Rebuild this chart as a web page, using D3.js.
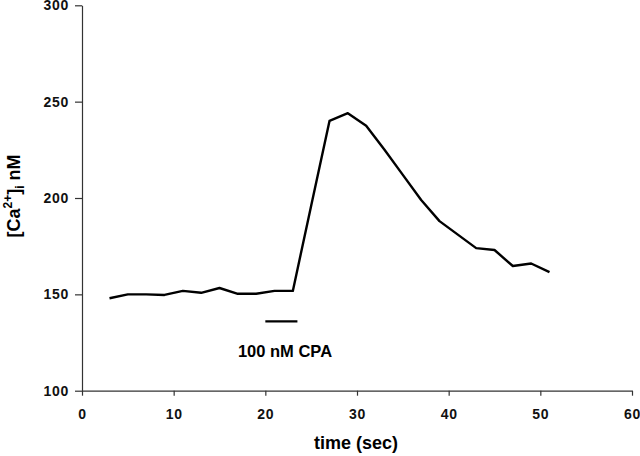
<!DOCTYPE html>
<html>
<head>
<meta charset="utf-8">
<script src="https://cdn.jsdelivr.net/npm/d3@7.9.0/dist/d3.min.js"></script>
<style>
  body { margin: 0; background: #fff; }
  svg { display: block; font-family: "Liberation Sans", Arial, sans-serif; }
  .tick text { font-size: 14px; font-weight: bold; fill: #111; letter-spacing: 0.7px; }
</style>
</head>
<body>
<svg id="chart" width="640" height="456"></svg>
<script>
// time points (sec) and [Ca2+]i (nM)
const times = [3, 5, 7, 9, 11, 13, 15, 17, 19, 21, 23, 25, 27, 29, 31, 33, 35, 37, 39, 41, 43, 45, 47, 49, 51];
const calcium = [148, 150, 150, 149.7, 151.8, 150.8, 153.3, 150.3, 150.3, 151.8, 151.8, 196, 240, 244, 237.5, 225, 212, 199, 188, 181, 174, 173, 164.7, 166, 161.5];
const xTicks = [0, 10, 20, 30, 40, 50, 60];
const yTicks = [100, 150, 200, 250, 300];
const cpaStart = 20, cpaEnd = 23.5, cpaLevel = 136;

const svg = d3.select('#chart');
const x = d3.scaleLinear().domain([0, 60]).range([82, 632]);
const y = d3.scaleLinear().domain([100, 300]).range([390.7, 5.3]);

const xAxis = svg.append('g')
    .attr('transform', `translate(0,${y(100)})`)
    .call(d3.axisBottom(x).tickValues(xTicks).tickSize(5).tickPadding(13).tickSizeOuter(0));
const yAxis = svg.append('g')
    .attr('transform', `translate(${x(0)},0)`)
    .call(d3.axisLeft(y).tickValues(yTicks).tickSize(7).tickPadding(6).tickSizeOuter(0));

[xAxis, yAxis].forEach((g) => {
    g.select('.domain').attr('stroke', '#333').attr('stroke-width', 1.2);
    g.selectAll('.tick line').attr('stroke', '#333').attr('stroke-width', 1.2);
});

const line = d3.line()
    .x((d, i) => x(times[i]))
    .y((d) => y(d));

svg.append('path')
    .datum(calcium)
    .attr('d', line)
    .attr('fill', 'none')
    .attr('stroke', '#000')
    .attr('stroke-width', 2.4)
    .attr('stroke-linejoin', 'round');

// CPA application bar
svg.append('line')
    .attr('x1', x(cpaStart)).attr('x2', x(cpaEnd))
    .attr('y1', y(cpaLevel)).attr('y2', y(cpaLevel))
    .attr('stroke', '#000')
    .attr('stroke-width', 2.4);

svg.append('text')
    .attr('x', 285)
    .attr('y', 357)
    .attr('text-anchor', 'middle')
    .attr('font-size', 16.5)
    .attr('font-weight', 'bold')
    .text('100 nM CPA');

svg.append('text')
    .attr('x', 356)
    .attr('y', 449)
    .attr('text-anchor', 'middle')
    .attr('font-size', 18)
    .attr('font-weight', 'bold')
    .text('time (sec)');

const yLabel = svg.append('text')
    .attr('transform', 'translate(20,196) rotate(-90)')
    .attr('text-anchor', 'middle')
    .attr('font-size', 18)
    .attr('font-weight', 'bold');
yLabel.append('tspan').text('[Ca');
yLabel.append('tspan').attr('font-size', 12).attr('dy', -8).text('2+');
yLabel.append('tspan').attr('dy', 8).text(']');
yLabel.append('tspan').attr('font-size', 12).attr('dy', 4).text('i');
yLabel.append('tspan').attr('dy', -4).text(' nM');
</script>
</body>
</html>
